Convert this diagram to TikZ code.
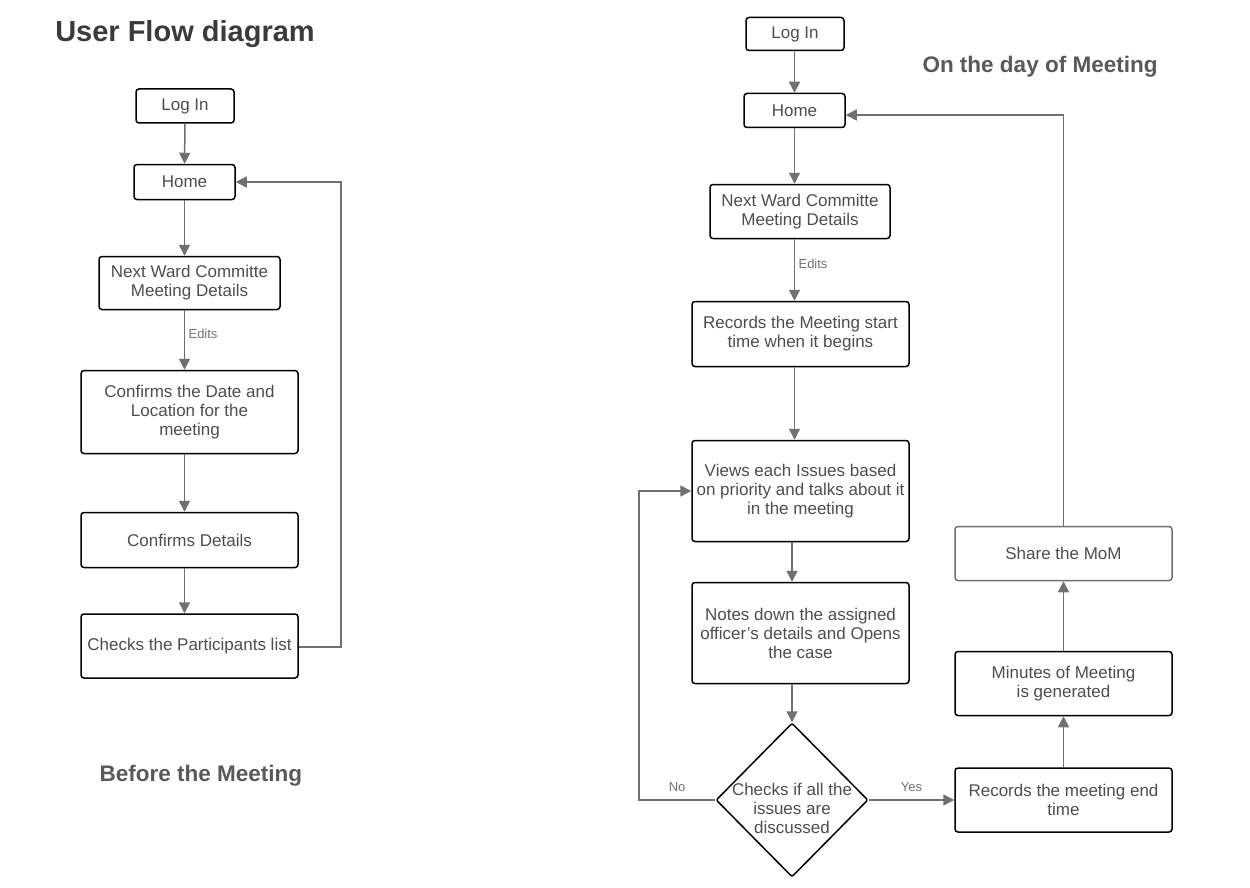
\documentclass[tikz,border=0pt]{standalone}
\usepackage{fontspec}
\setmainfont{Liberation Sans}
\usetikzlibrary{arrows.meta,positioning,shapes.geometric}

\definecolor{linegray}{HTML}{707070}
\definecolor{textgray}{HTML}{4D4D4D}
\definecolor{titlegray}{HTML}{3B3B3B}
\definecolor{subgray}{HTML}{595959}

\begin{document}
\begin{tikzpicture}[x=1pt,y=-1pt,
    flowbox/.style={draw=black,line width=1.5pt,rounded corners=3pt,align=center,
        text=textgray,font=\fontsize{17}{19}\selectfont,inner sep=2pt},
    decision/.style={diamond,draw=black,line width=1.5pt,rounded corners=2pt,align=center,
        text=textgray,font=\fontsize{17}{19}\selectfont,inner sep=-20pt,
        minimum width=152pt,minimum height=154pt},
    flowarrow/.style={-{Triangle[length=11pt,width=11pt]},line width=1.5pt,draw=linegray},
    edgelabel/.style={text=linegray,font=\fontsize{13}{15}\selectfont}]

    \useasboundingbox (0,0) rectangle (1250,888);

    % Titles
    \node[text=titlegray,font=\fontsize{29}{33}\selectfont\bfseries] (title) at (185,34) {User Flow diagram};
    \node[text=subgray,font=\fontsize{22.5}{26}\selectfont\bfseries] (before) at (201,776) {Before the Meeting};
    \node[text=subgray,font=\fontsize{22.5}{26}\selectfont\bfseries] (onday) at (1040,67) {On the day of Meeting};

    % Left side boxes
    \node[flowbox,minimum width=98pt,minimum height=34pt] (login1) at (185,106) {Log In};
    \node[flowbox,minimum width=101pt,minimum height=35pt] (home1) at (184.5,182) {Home};
    \node[flowbox,minimum width=181pt,minimum height=53pt] (next1) at (189.5,283) {Next Ward Committe\\Meeting Details};
    \node[flowbox,minimum width=217pt,minimum height=83pt] (date1) at (189.5,412) {Confirms the Date and\\Location for the\\meeting};
    \node[flowbox,minimum width=217pt,minimum height=55pt] (details1) at (189.5,540) {Confirms Details};
    \node[flowbox,minimum width=217pt,minimum height=64pt] (parts1) at (189.5,646) {Checks the Participants list};

    % Left side invisible nodes
    \coordinate (loop1) at (341,647);

    % Left side arrows
    \draw[flowarrow] (login1) -- (home1);
    \draw[flowarrow] (home1) -- (next1.north -| home1);
    \draw[flowarrow] (next1.south -| home1) -- node[right,edgelabel,pos=0.4] {Edits} (date1.north -| home1);
    \draw[flowarrow] (date1.south -| home1) -- (details1.north -| home1);
    \draw[flowarrow] (details1.south -| home1) -- (parts1.north -| home1);
    \draw[flowarrow] (parts1.east |- loop1) -- (loop1) |- (home1.east);

    % Right side boxes
    \node[flowbox,minimum width=98pt,minimum height=33pt] (login2) at (795,34) {Log In};
    \node[flowbox,minimum width=101pt,minimum height=34pt] (home2) at (794.5,110.5) {Home};
    \node[flowbox,minimum width=180pt,minimum height=54pt] (next2) at (800,211.5) {Next Ward Committe\\Meeting Details};
    \node[flowbox,minimum width=217pt,minimum height=65pt] (start2) at (800.5,334) {Records the Meeting start\\time when it begins};
    \node[flowbox,minimum width=217pt,minimum height=101pt] (views2) at (800.5,491) {Views each Issues based\\on priority and talks about it\\in the meeting};
    \node[flowbox,minimum width=217pt,minimum height=101pt] (notes2) at (800.5,633) {Notes down the assigned\\officer’s details and Opens\\the case};
    \node[decision] (check2) at (792,800) {\mbox{}\\[11pt]Checks if all the\\issues are\\discussed};
    \node[flowbox,minimum width=217pt,minimum height=64pt] (end2) at (1063.5,800) {Records the meeting end\\time};
    \node[flowbox,minimum width=217pt,minimum height=64pt] (minutes2) at (1063.5,683.5) {Minutes of Meeting\\is generated};
    \node[flowbox,draw=linegray,minimum width=217pt,minimum height=54pt] (share2) at (1063.5,553.5) {Share the MoM};

    % Right side invisible nodes
    \coordinate (noturn) at (639,800);
    \coordinate (loop2) at (1063.5,115);

    % Right side arrows
    \draw[flowarrow] (login2.south -| home2) -- (home2);
    \draw[flowarrow] (home2) -- (next2.north -| home2);
    \draw[flowarrow] (next2.south -| home2) -- node[right,edgelabel,pos=0.4] {Edits} (start2.north -| home2);
    \draw[flowarrow] (start2.south -| home2) -- (views2.north -| home2);
    \draw[flowarrow] (views2.south -| check2) -- (notes2.north -| check2);
    \draw[flowarrow] (notes2.south -| check2) -- (check2.north);
    \draw[flowarrow] (check2.west) -- node[above=4pt,edgelabel] {No} (noturn) |- (views2.west);
    \draw[flowarrow] (check2.east) -- node[above=4pt,edgelabel] {Yes} (end2.west);
    \draw[flowarrow] (end2) -- (minutes2);
    \draw[flowarrow] (minutes2) -- (share2);
    \draw[flowarrow] (share2.north) -- (loop2) -- (loop2 -| home2.east);

\end{tikzpicture}
\end{document}
